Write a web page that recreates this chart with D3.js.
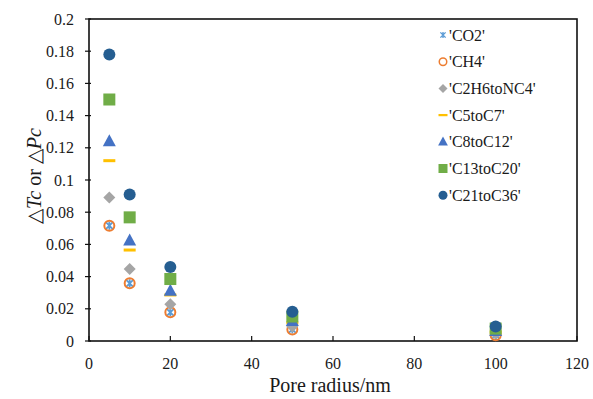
<!DOCTYPE html>
<html>
<head>
<meta charset="utf-8">
<script src="https://cdnjs.cloudflare.com/ajax/libs/d3/7.8.5/d3.min.js"></script>
<style>
  body { margin: 0; background: #fff; }
  text { font-family: "Liberation Serif", "Times New Roman", serif; fill: #1a1a1a; }
</style>
</head>
<body>
<div class="chart"></div>
<script>
// pore radius (nm) and the relative shift for each component
var radii = [5, 10, 20, 50, 100];
var co2   = [0.0716, 0.0358, 0.0178, 0.0072, 0.0036];
var ch4   = [0.0716, 0.0358, 0.0178, 0.0072, 0.0036];
var c2h6  = [0.0892, 0.0447, 0.0228, 0.0090, 0.0045];
var c5    = [0.112, 0.0565, 0.0286, 0.0113, 0.0056];
var c8    = [0.124, 0.0625, 0.0312, 0.0125, 0.0062];
var c13   = [0.150, 0.0768, 0.0385, 0.0152, 0.0077];
var c21   = [0.178, 0.0910, 0.0460, 0.0182, 0.0090];
var names = ["'CO2'", "'CH4'", "'C2H6toNC4'", "'C5toC7'", "'C8toC12'", "'C13toC20'", "'C21toC36'"];
var xTicks = [0, 20, 40, 60, 80, 100, 120];
var yTicks = [0, 0.02, 0.04, 0.06, 0.08, 0.1, 0.12, 0.14, 0.16, 0.18, 0.2];

var series = [
  {name: names[0], values: co2,  color: "#5b9bd5", shape: "star"},
  {name: names[1], values: ch4,  color: "#ed7d31", shape: "ring"},
  {name: names[2], values: c2h6, color: "#a5a5a5", shape: "diamond"},
  {name: names[3], values: c5,   color: "#ffc000", shape: "dash"},
  {name: names[4], values: c8,   color: "#4472c4", shape: "triangle"},
  {name: names[5], values: c13,  color: "#70ad47", shape: "square"},
  {name: names[6], values: c21,  color: "#255e91", shape: "circle"}
];

var width = 593, height = 399;
var padL = 89, padR = 577, padT = 19, padB = 341;

var svg = d3.select(".chart").append("svg")
  .attr("width", width).attr("height", height);

var x = d3.scaleLinear().domain([0, 120]).range([padL, padR]);
var y = d3.scaleLinear().domain([0, 0.2]).range([padB, padT]);

function drawMarker(g, shape, color) {
  if (shape == "circle") {
    g.append("circle").attr("r", 6).style("fill", color);
  } else if (shape == "ring") {
    g.append("circle").attr("r", 5).style("fill", "none")
      .style("stroke", color).style("stroke-width", 2);
  } else if (shape == "square") {
    g.append("rect").attr("x", -6).attr("y", -6).attr("width", 12).attr("height", 12)
      .style("fill", color);
  } else if (shape == "triangle") {
    g.append("path").attr("d", "M0,-7L6.5,5L-6.5,5Z").style("fill", color);
  } else if (shape == "diamond") {
    g.append("path").attr("d", "M0,-6L6,0L0,6L-6,0Z").style("fill", color);
  } else if (shape == "dash") {
    g.append("rect").attr("x", -6).attr("y", -1.5).attr("width", 12).attr("height", 3)
      .style("fill", color);
  } else if (shape == "star") {
    g.append("path").attr("d", "M-3.5,-3.5L3.5,3.5M-3.5,3.5L3.5,-3.5M0,-4L0,4")
      .style("stroke", color).style("stroke-width", 1.8).style("fill", "none");
  }
}

// frame
svg.append("rect")
  .attr("x", padL).attr("y", padT)
  .attr("width", padR - padL).attr("height", padB - padT)
  .style("fill", "none").style("stroke", "#111").style("stroke-width", 1.6);

// y axis ticks and labels
var yAxis = svg.append("g");
yAxis.selectAll("line").data(yTicks).enter().append("line")
  .attr("x1", padL - 4).attr("x2", padL + 2)
  .attr("y1", function(d){ return y(d); }).attr("y2", function(d){ return y(d); })
  .style("stroke", "#111").style("stroke-width", 1.2);
yAxis.selectAll("text").data(yTicks).enter().append("text")
  .attr("x", padL - 15).attr("y", function(d){ return y(d); })
  .attr("dy", "0.35em")
  .style("text-anchor", "end").style("font-size", "16px")
  .text(function(d){ return d; });

// x axis ticks and labels
var xAxis = svg.append("g");
xAxis.selectAll("line").data(xTicks).enter().append("line")
  .attr("x1", function(d){ return x(d); }).attr("x2", function(d){ return x(d); })
  .attr("y1", padB).attr("y2", padB - 5)
  .style("stroke", "#111").style("stroke-width", 1.2);
xAxis.selectAll("text").data(xTicks).enter().append("text")
  .attr("x", function(d){ return x(d); }).attr("y", 369)
  .style("text-anchor", "middle").style("font-size", "16px")
  .text(function(d){ return d; });

// axis titles
svg.append("text")
  .attr("x", 330).attr("y", 392)
  .style("text-anchor", "middle").style("font-size", "20px")
  .text("Pore radius/nm");

var yt = svg.append("text")
  .attr("transform", "translate(41,176) rotate(-90)")
  .style("text-anchor", "middle").style("font-size", "20px");
yt.append("tspan").text("\u25B3");
yt.append("tspan").style("font-style", "italic").text("Tc");
yt.append("tspan").text(" or ");
yt.append("tspan").text("\u25B3");
yt.append("tspan").style("font-style", "italic").text("Pc");

// points
series.forEach(function(s) {
  s.values.forEach(function(v, i) {
    var g = svg.append("g")
      .attr("transform", "translate(" + x(radii[i]) + "," + y(v) + ")");
    drawMarker(g, s.shape, s.color);
  });
});

// legend
var legend = svg.selectAll(".legend")
  .data(series)
  .enter()
  .append("g")
  .attr("class", "legend")
  .attr("transform", function(d, i) {
    return "translate(443," + (35 + i * 26.7) + ")";
  });
legend.each(function(d) {
  var g = d3.select(this).append("g").attr("transform", "scale(0.75)");
  drawMarker(g, d.shape, d.color);
});
legend.append("text")
  .attr("x", 6).attr("dy", "0.35em")
  .style("font-size", "16px")
  .text(function(d){ return d.name; });
</script>
</body>
</html>
